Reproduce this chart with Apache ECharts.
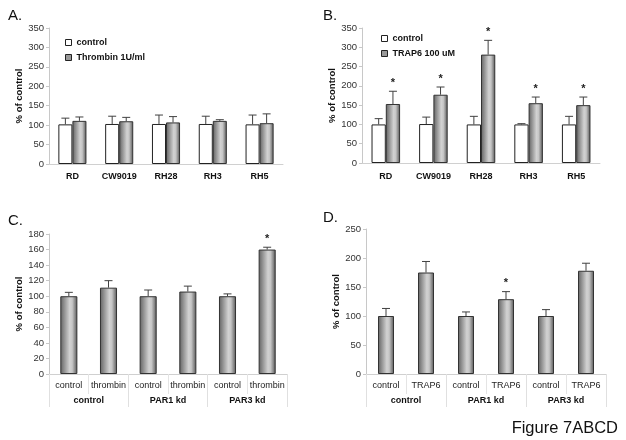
<!DOCTYPE html>
<html><head><meta charset="utf-8">
<script src="https://cdn.jsdelivr.net/npm/echarts@6/dist/echarts.min.js"></script>
<style>html,body{margin:0;padding:0;background:#fff}#c{width:626px;height:440px}</style>
</head><body><div id="c"></div>
<script>
// ---- data ----
const catsAB = ['RD','CW9019','RH28','RH3','RH5'];
const aControl = [102,103,103,103,102];
const aControlSd = [16,20,23,20,24];
const aThrombin = [111,110,107,111,105];
const aThrombinSd = [10,10,15,3,24];
const bControl = [100,101,100,100,100];
const bControlSd = [15,18,21,2,21];
const bTrap = [153,177,281,155,150];
const bTrapSd = [33,20,37,16,21];
const bTrapStar = [true,true,true,true,true];
const catsC = ['control','thrombin','control','thrombin','control','thrombin'];
const catsD = ['control','TRAP6','control','TRAP6','control','TRAP6'];
const groupsCD = ['control','PAR1 kd','PAR3 kd'];
const cVals = [100,111,100,106,100,160];
const cSd = [5,9,8,7,3,3];
const cStar = [false,false,false,false,false,true];
const dVals = [100,175,100,129,100,178];
const dSd = [13,19,7,13,11,13];
const dStar = [false,false,false,true,false,false];
const yTicksAB = {min:0,max:350,interval:50};
const yTicksC = {min:0,max:180,interval:20};
const yTicksD = {min:0,max:250,interval:50};

const FONT = 'Liberation Sans, Arial, sans-serif';
const grayGrad = {type:'linear',x:0,y:0,x2:1,y2:0,colorStops:[
  {offset:0,color:'#626262'},{offset:0.55,color:'#d2d2d2'},{offset:0.7,color:'#c6c6c6'},{offset:1,color:'#555555'}]};

function errSeries(xi, yi, vals, sd, stars, offFrac){
  return {
    type:'custom', xAxisIndex:xi, yAxisIndex:yi, z:5, silent:true,
    data: vals.map((v,i)=>[i, v, v+sd[i], stars && stars[i] ? 1 : 0]),
    renderItem:function(params, api){
      const bw = api.size([1,0])[0];
      const p0 = api.coord([api.value(0), api.value(1)]);
      const p1 = api.coord([api.value(0), api.value(2)]);
      const x = p0[0] + bw*offFrac;
      const cap = 4;
      const st = {stroke:'#404040', lineWidth:1};
      const ch = [
        {type:'line', shape:{x1:x,y1:p0[1],x2:x,y2:p1[1]}, style:st},
        {type:'line', shape:{x1:x-cap,y1:p1[1],x2:x+cap,y2:p1[1]}, style:st}
      ];
      if (api.value(3)) ch.push({type:'text', style:{x:x, y:p1[1]-3, text:'*', textAlign:'center', textVerticalAlign:'bottom', font:'bold 11px '+FONT, fill:'#222'}});
      return {type:'group', children:ch};
    }
  };
}

const yAxisBase = (gi, t) => Object.assign({
  type:'value', gridIndex:gi, name:'% of control', nameLocation:'middle', nameGap:23,
  nameTextStyle:{fontFamily:FONT, fontWeight:'bold', fontSize:9.5, color:'#111'},
  axisLine:{show:true, lineStyle:{color:'#c8c8c8'}},
  axisTick:{show:true, length:3, lineStyle:{color:'#c8c8c8'}},
  axisLabel:{fontFamily:FONT, fontSize:9.5, color:'#333', margin:5},
  splitLine:{show:false}
}, t);

const option = {
  animation:false,
  backgroundColor:'#fff',
  title:[
    {text:'A.', left:3, top:3, textStyle:{fontFamily:FONT, fontWeight:'normal', fontSize:15, color:'#111'}},
    {text:'B.', left:318, top:3, textStyle:{fontFamily:FONT, fontWeight:'normal', fontSize:15, color:'#111'}},
    {text:'C.', left:3, top:208, textStyle:{fontFamily:FONT, fontWeight:'normal', fontSize:15, color:'#111'}},
    {text:'D.', left:318, top:205, textStyle:{fontFamily:FONT, fontWeight:'normal', fontSize:15, color:'#111'}},
    {text:'Figure 7ABCD', right:3, top:415, textStyle:{fontFamily:FONT, fontWeight:'normal', fontSize:16.5, color:'#111'}}
  ],
  legend:[
    {left:60, top:33, orient:'vertical', itemWidth:6, itemHeight:6, itemGap:6, icon:'rect',
     textStyle:{fontFamily:FONT, fontWeight:'bold', fontSize:9, color:'#111'}, selectedMode:false,
     data:[{name:'control', itemStyle:{color:'#fff', borderColor:'#222', borderWidth:1}},
           {name:'Thrombin 1U/ml', itemStyle:{color:'#999', borderColor:'#222', borderWidth:1}}]},
    {left:376, top:29, orient:'vertical', itemWidth:6, itemHeight:6, itemGap:6, icon:'rect',
     textStyle:{fontFamily:FONT, fontWeight:'bold', fontSize:9, color:'#111'}, selectedMode:false,
     data:[{name:'control ', itemStyle:{color:'#fff', borderColor:'#222', borderWidth:1}},
           {name:'TRAP6 100 uM', itemStyle:{color:'#999', borderColor:'#222', borderWidth:1}}]}
  ],
  grid:[
    {left:49, right:343, top:28, bottom:276},
    {left:362, right:26, top:28, bottom:277},
    {left:49, right:339, top:234, bottom:66},
    {left:366, right:20, top:229, bottom:66}
  ],
  xAxis:[
    {type:'category', gridIndex:0, data:catsAB, axisLine:{lineStyle:{color:'#d0d0d0'}}, axisTick:{show:false},
     axisLabel:{fontFamily:FONT, fontWeight:'bold', fontSize:9, color:'#111', margin:8}},
    {type:'category', gridIndex:1, data:catsAB, axisLine:{lineStyle:{color:'#d0d0d0'}}, axisTick:{show:false},
     axisLabel:{fontFamily:FONT, fontWeight:'bold', fontSize:9, color:'#111', margin:9}},
    {type:'category', gridIndex:2, data:catsC, position:'bottom', axisLine:{lineStyle:{color:'#d0d0d0'}},
     axisTick:{show:true, length:20, interval:0, lineStyle:{color:'#e4e4e4'}},
     axisLabel:{fontFamily:FONT, fontSize:9, color:'#222', margin:7, interval:0}},
    {type:'category', gridIndex:2, data:groupsCD, position:'bottom', axisLine:{show:false},
     axisTick:{show:true, length:33, interval:0, lineStyle:{color:'#e0e0e0'}},
     axisLabel:{fontFamily:FONT, fontWeight:'bold', fontSize:9, color:'#111', margin:22, interval:0}},
    {type:'category', gridIndex:3, data:catsD, position:'bottom', axisLine:{lineStyle:{color:'#d0d0d0'}},
     axisTick:{show:true, length:20, interval:0, lineStyle:{color:'#e4e4e4'}},
     axisLabel:{fontFamily:FONT, fontSize:9, color:'#222', margin:7, interval:0}},
    {type:'category', gridIndex:3, data:groupsCD, position:'bottom', axisLine:{show:false},
     axisTick:{show:true, length:33, interval:0, lineStyle:{color:'#e0e0e0'}},
     axisLabel:{fontFamily:FONT, fontWeight:'bold', fontSize:9, color:'#111', margin:22, interval:0}}
  ],
  yAxis:[
    yAxisBase(0, yTicksAB), yAxisBase(1, yTicksAB), yAxisBase(2, yTicksC), yAxisBase(3, yTicksD)
  ],
  series:[
    {name:'control', type:'bar', xAxisIndex:0, yAxisIndex:0, data:aControl, barWidth:'30%', barGap:'0%',
     itemStyle:{color:'#fff', borderColor:'#222', borderWidth:1}},
    {name:'Thrombin 1U/ml', type:'bar', xAxisIndex:0, yAxisIndex:0, data:aThrombin, barWidth:'30%', barGap:'0%',
     itemStyle:{color:grayGrad, borderColor:'#333', borderWidth:1}},
    errSeries(0,0,aControl,aControlSd,null,-0.15),
    errSeries(0,0,aThrombin,aThrombinSd,null,0.15),
    {name:'control ', type:'bar', xAxisIndex:1, yAxisIndex:1, data:bControl, barWidth:'30%', barGap:'0%',
     itemStyle:{color:'#fff', borderColor:'#222', borderWidth:1}},
    {name:'TRAP6 100 uM', type:'bar', xAxisIndex:1, yAxisIndex:1, data:bTrap, barWidth:'30%', barGap:'0%',
     itemStyle:{color:grayGrad, borderColor:'#333', borderWidth:1}},
    errSeries(1,1,bControl,bControlSd,null,-0.15),
    errSeries(1,1,bTrap,bTrapSd,bTrapStar,0.15),
    {name:'C', type:'bar', xAxisIndex:2, yAxisIndex:2, data:cVals, barWidth:'43%',
     itemStyle:{color:grayGrad, borderColor:'#333', borderWidth:1}},
    errSeries(2,2,cVals,cSd,cStar,0),
    {name:'D', type:'bar', xAxisIndex:4, yAxisIndex:3, data:dVals, barWidth:'40%',
     itemStyle:{color:grayGrad, borderColor:'#333', borderWidth:1}},
    errSeries(4,3,dVals,dSd,dStar,0)
  ]
};
const chart = echarts.init(document.getElementById('c'), null, {renderer:'canvas'});
chart.setOption(option);
</script></body></html>
